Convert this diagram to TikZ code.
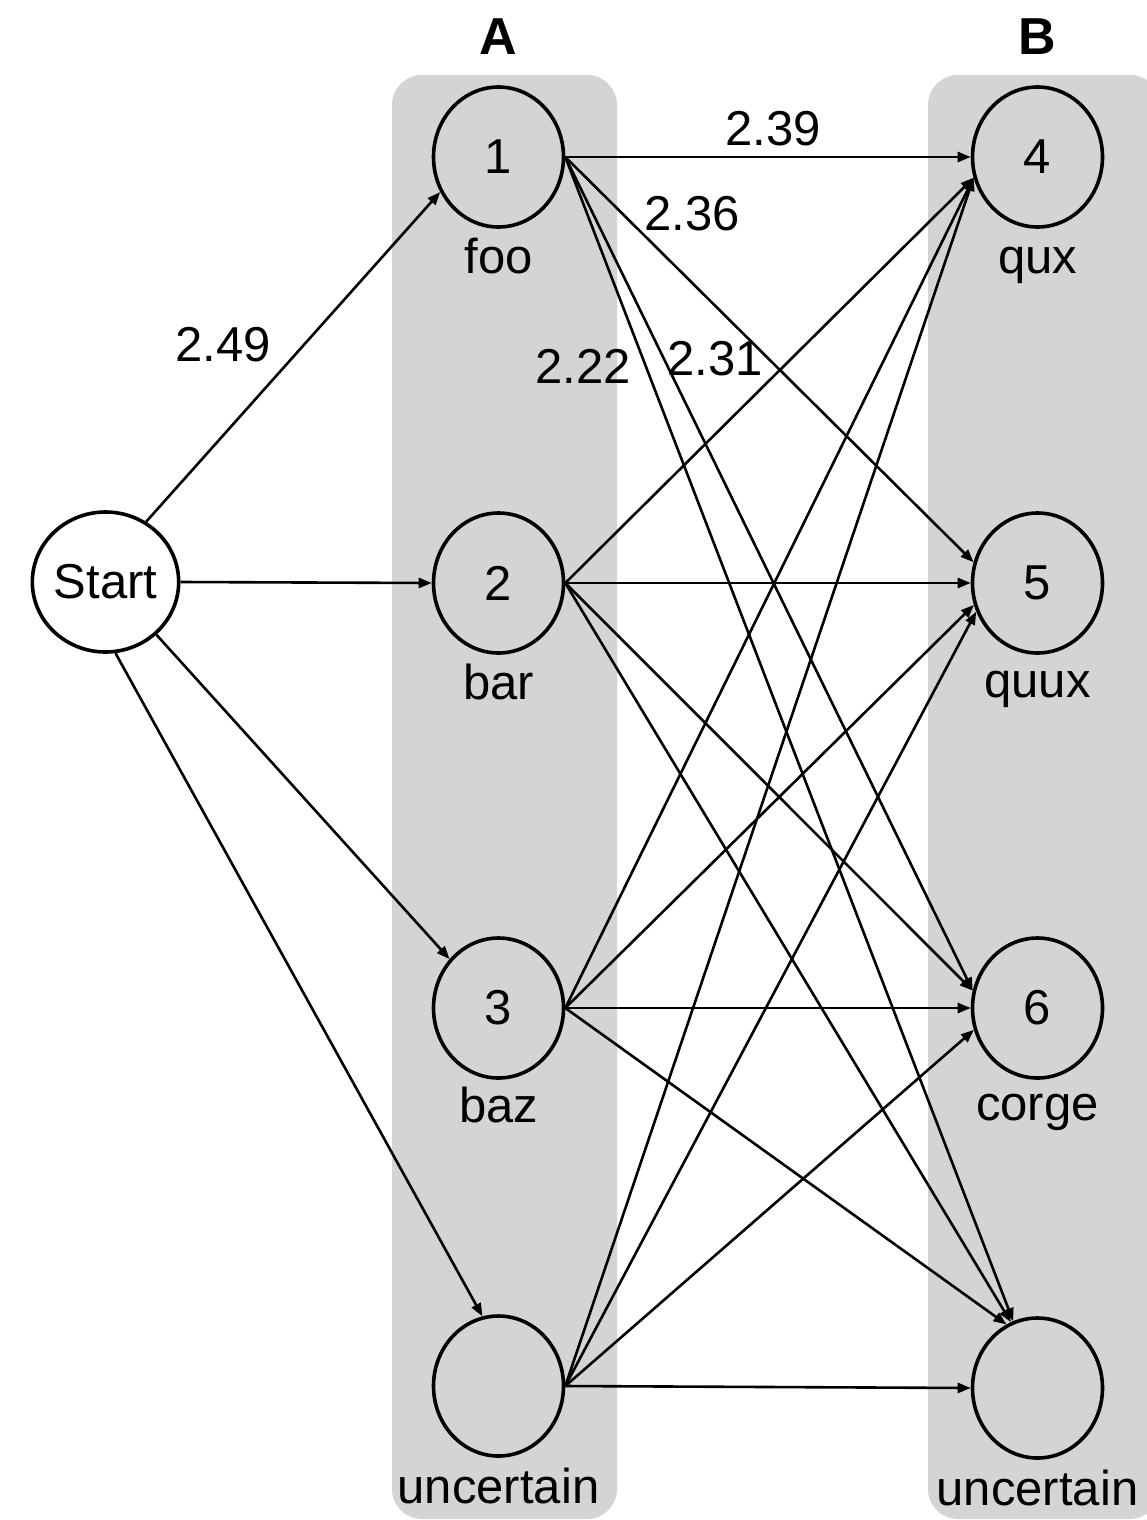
\documentclass[tikz,border=0pt]{standalone}
\usepackage{fontspec}
\setmainfont{Liberation Sans}
\usetikzlibrary{shapes.geometric,arrows.meta}
\definecolor{panelgray}{RGB}{212,212,212}
\begin{document}
\begin{tikzpicture}[x=1pt,y=-1pt,
  every node/.style={font=\fontsize{49}{58}\selectfont},
  state/.style={ellipse, draw, line width=3.6pt, minimum width=130pt, minimum height=140pt, inner sep=0pt},
  panel/.style={fill=panelgray, rounded corners=30pt},
  link/.style={line width=2.6pt, -{Triangle[length=13pt,width=10pt]}},
  tag/.style={anchor=base, inner sep=0pt},
  ]
\useasboundingbox (0,0) rectangle (1147,1520);

% column panels
\fill[panel] (392,75) rectangle (617,1519);
\fill[panel] (928,75) rectangle (1160,1519);

% column titles
\node[tag, font=\fontsize{52}{60}\selectfont\bfseries] (titleA) at (498,55) {A};
\node[tag, font=\fontsize{52}{60}\selectfont\bfseries] (titleB) at (1037,55) {B};

% states
\node[state, fill=white] (start) at (105.5,582) {Start};
\node[state] (a1) at (498.5,157) {1};
\node[state] (a2) at (498.5,583) {2};
\node[state] (a3) at (498.5,1008) {3};
\node[state] (au) at (498.5,1386) {};
\node[state] (b4) at (1037.5,157) {4};
\node[state] (b5) at (1037.5,583) {5};
\node[state] (b6) at (1037.5,1008) {6};
\node[state] (bu) at (1037.5,1388) {};

% state names
\node[tag] (la1) at (498.5,273) {foo};
\node[tag] (la2) at (498.5,699) {bar};
\node[tag] (la3) at (498.5,1122) {baz};
\node[tag] (lau) at (498.5,1503) {uncertain};
\node[tag] (lb4) at (1037.5,273) {qux};
\node[tag] (lb5) at (1037.5,697) {quux};
\node[tag] (lb6) at (1037.5,1120) {corge};
\node[tag] (lbu) at (1037.5,1505) {uncertain};

% transitions from the start
\draw[link] (start.56) -- (a1.211);
\draw[link] (start.east) -- (a2.west);
\draw[link] (start.-46) -- (a3.135);
\draw[link] (start.-82) -- (au.103);

% transitions from column A to column B
\draw[link] (a1.east) -- (b4.west);
\draw[link] (a1.east) -- (b5.162);
\draw[link] (a1.east) -- (b6.165);
\draw[link] (a1.east) -- (bu.110);

\draw[link] (a2.east) -- (b4.198);
\draw[link] (a2.east) -- (b5.west);
\draw[link] (a2.east) -- (b6.165);
\draw[link] (a2.east) -- (bu.112);

\draw[link] (a3.east) -- (b4.198);
\draw[link] (a3.east) -- (b5.199);
\draw[link] (a3.east) -- (b6.west);
\draw[link] (a3.east) -- (bu.116);

\draw[link] (au.east) -- (b4.198);
\draw[link] (au.east) -- (b5.205);
\draw[link] (au.east) -- (b6.199);
\draw[link] (au.east) -- (bu.west);

% transition weights
\node[tag] (w249) at (223,361) {2.49};
\node[tag] (w239) at (773,145) {2.39};
\node[tag] (w236) at (692,230) {2.36};
\node[tag] (w222) at (583,383) {2.22};
\node[tag] (w231) at (715,375) {2.31};
\end{tikzpicture}
\end{document}
